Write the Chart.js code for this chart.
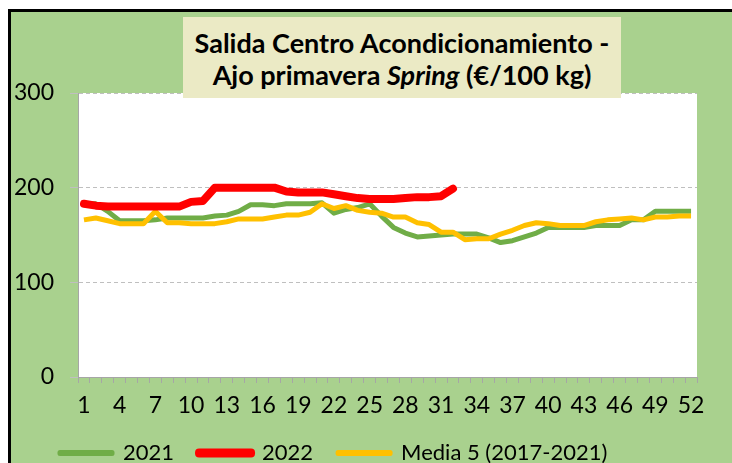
<!DOCTYPE html>
<html>
<head>
<meta charset="utf-8">
<script src="https://cdn.jsdelivr.net/npm/chart.js@4.4.1/dist/chart.umd.min.js"></script>
<style>
  body { margin: 0; width: 732px; height: 463px; overflow: hidden; background: #fff; font-family: Lato, sans-serif; }
  #frame { position: absolute; left: 8px; top: 9px; width: 730px; height: 470px; background: #a9d18e; border-left: 3px solid #000; border-top: 3px solid #000; }
  #wrap { position: absolute; left: 0; top: 0; width: 732px; height: 484px; }
  #title { position: absolute; left: 183px; top: 17px; width: 438px; height: 81px; background: #ebeac5;
           text-align: center; font-weight: bold; font-size: 27px; line-height: 32px; padding-top: 10px;
           box-sizing: border-box; color: #000; z-index: 2; white-space: nowrap; }
</style>
</head>
<body>
<div id="frame"></div>
<div id="wrap"><canvas id="chart"></canvas></div>
<div id="title">Salida Centro Acondicionamiento -<br>Ajo primavera <i>Spring</i> (€/100 kg)</div>
<script>
// weeks 1..52
const weeks = ['1','2','3','4','5','6','7','8','9','10','11','12','13','14','15','16','17','18','19','20',
  '21','22','23','24','25','26','27','28','29','30','31','32','33','34','35','36','37','38','39','40',
  '41','42','43','44','45','46','47','48','49','50','51','52'];

const serie2021 = [183,183,175,165,165,165,166,168,168,168,168,170,171,175,182,182,181,183,183,183,
  184,173,177,179,183,170,158,152,148,149,150,151,151,151,147,142,144,148,152,158,
  158,158,158,160,160,160,166,166,175,175,175,175];

const serie2022 = [183,181,180,180,180,180,180,180,180,185,186,200,200,200,200,200,200,196,195,195,
  195,193,191,189,188,188,188,189,190,190,191,199];

const media5 = [166,168,165,162,162,162,175,163,163,162,162,162,164,167,167,167,169,171,171,174,
  183,178,181,176,174,173,169,169,163,161,153,153,145,146,146,151,155,160,163,162,
  160,160,160,164,166,167,168,166,169,169,170,170];

const yTicks = [0, 100, 200, 300];

const plotBg = {
  id: 'plotBg',
  beforeDraw(chart) {
    const { ctx, chartArea: a } = chart;
    ctx.save();
    ctx.fillStyle = '#ffffff';
    ctx.fillRect(a.left, a.top, a.right - a.left, a.bottom - a.top);
    ctx.restore();
  }
};

// move the legend row up under the tick labels, and start it where the original does
const legendPlace = {
  id: 'legendPlace',
  afterLayout(chart) {
    const lg = chart.legend;
    const h = lg.bottom - lg.top;
    lg.top = 417;
    lg.bottom = 417 + h;
    lg.left = 35;
  }
};

const font = { family: 'Lato', size: 23 };

new Chart(document.getElementById('chart'), {
  type: 'line',
  data: {
    labels: weeks,
    datasets: [
      { label: '2021', data: serie2021, borderColor: '#70ad47', backgroundColor: '#70ad47', borderWidth: 5, order: 3 },
      { label: '2022', data: serie2022, borderColor: '#ff0000', backgroundColor: '#ff0000', borderWidth: 8, order: 1,
        borderCapStyle: 'round' },
      { label: 'Media 5 (2017-2021)', data: media5, borderColor: '#ffc000', backgroundColor: '#ffc000', borderWidth: 5, order: 2 }
    ]
  },
  options: {
    responsive: true,
    maintainAspectRatio: false,
    animation: false,
    layout: { padding: { left: 8, right: 35, top: 93, bottom: 0 } },
    elements: { point: { radius: 0 }, line: { tension: 0, borderJoinStyle: 'round' } },
    plugins: {
      title: { display: false },
      tooltip: { enabled: false },
      legend: {
        position: 'bottom',
        align: 'start',
        labels: {
          color: '#000', font: { family: 'Lato', size: 22 }, boxWidth: 52, boxHeight: 1, padding: 25,
          sort: (a, b) => a.datasetIndex - b.datasetIndex
        }
      }
    },
    scales: {
      x: {
        offset: true,
        grid: { display: true, drawOnChartArea: false, offset: true, tickLength: 6, color: '#a6a6a6' },
        border: { color: '#a6a6a6', width: 1 },
        ticks: {
          autoSkip: false, maxRotation: 0, color: '#000', font: font, padding: 9,
          callback: function (v, i) { return i % 3 === 0 ? this.getLabelForValue(v) : ''; }
        },
        afterFit(scale) { scale.height = 50; }
      },
      y: {
        min: 0, max: 300,
        afterBuildTicks(scale) { scale.ticks = yTicks.map(v => ({ value: v })); },
        grid: { color: '#bfbfbf', tickLength: 8 },
        border: { color: '#a6a6a6', dash: [4, 3] },
        ticks: { color: '#000', font: font, padding: 16 },
        afterFit(scale) { scale.width = 70; }
      }
    }
  },
  plugins: [plotBg, legendPlace]
});
</script>
</body>
</html>
